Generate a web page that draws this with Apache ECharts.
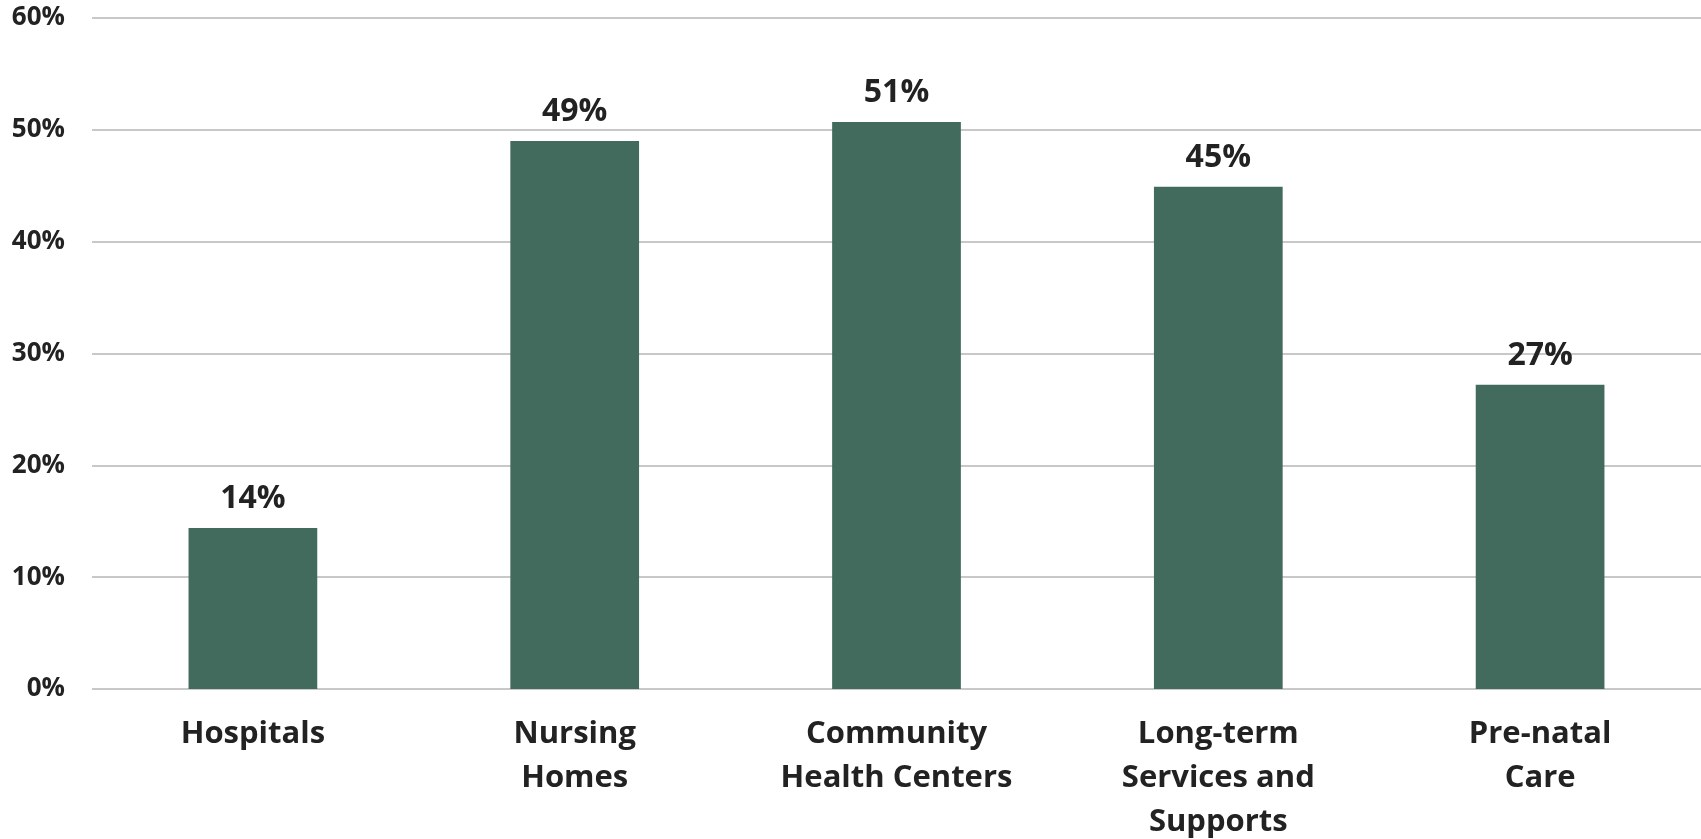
<!DOCTYPE html>
<html>
<head>
<meta charset="utf-8">
<script src="https://cdn.jsdelivr.net/npm/echarts@6/dist/echarts.min.js"></script>
<style>
html,body{margin:0;padding:0;background:#fff;}
#chart{width:1701px;height:839px;}
</style>
</head>
<body>
<div id="chart"></div>
<script>
const categories = ["Hospitals", "Nursing\nHomes", "Community\nHealth Centers", "Long-term\nServices and\nSupports", "Pre-natal\nCare"];
const values = [14.4, 49.0, 50.7, 44.9, 27.2];
const yTicks = [0, 10, 20, 30, 40, 50, 60];

const FONT = "'Open Sans', 'Liberation Sans', sans-serif";
const chart = echarts.init(document.getElementById('chart'), null, {renderer: 'canvas'});
chart.setOption({
  animation: false,
  backgroundColor: '#ffffff',
  grid: {left: 92, right: 0, top: 18, bottom: 150, containLabel: false, outerBoundsMode: 'none'},
  xAxis: {
    type: 'category',
    data: categories,
    axisLine: {show: false},
    axisTick: {show: false},
    axisLabel: {
      interval: 0,
      margin: 23,
      color: '#222222',
      fontFamily: FONT,
      fontWeight: 'bold',
      fontSize: 31,
      lineHeight: 44
    }
  },
  yAxis: {
    type: 'value',
    min: yTicks[0],
    max: yTicks[yTicks.length - 1],
    interval: 10,
    axisLine: {show: false},
    axisTick: {show: false},
    splitLine: {lineStyle: {color: '#c8c8c8', width: 2}},
    axisLabel: {
      margin: 27,
      color: '#222222',
      fontFamily: FONT,
      fontWeight: 'bold',
      fontSize: 26,
      formatter: v => v + '%'
    }
  },
  series: [{
    type: 'bar',
    data: values,
    barWidth: '40%',
    itemStyle: {color: '#436B5D'},
    label: {
      show: true,
      position: 'top',
      distance: 13,
      color: '#222222',
      fontFamily: FONT,
      fontWeight: 'bold',
      fontSize: 32,
      formatter: p => Math.round(p.value) + '%'
    }
  }]
});
</script>
</body>
</html>
